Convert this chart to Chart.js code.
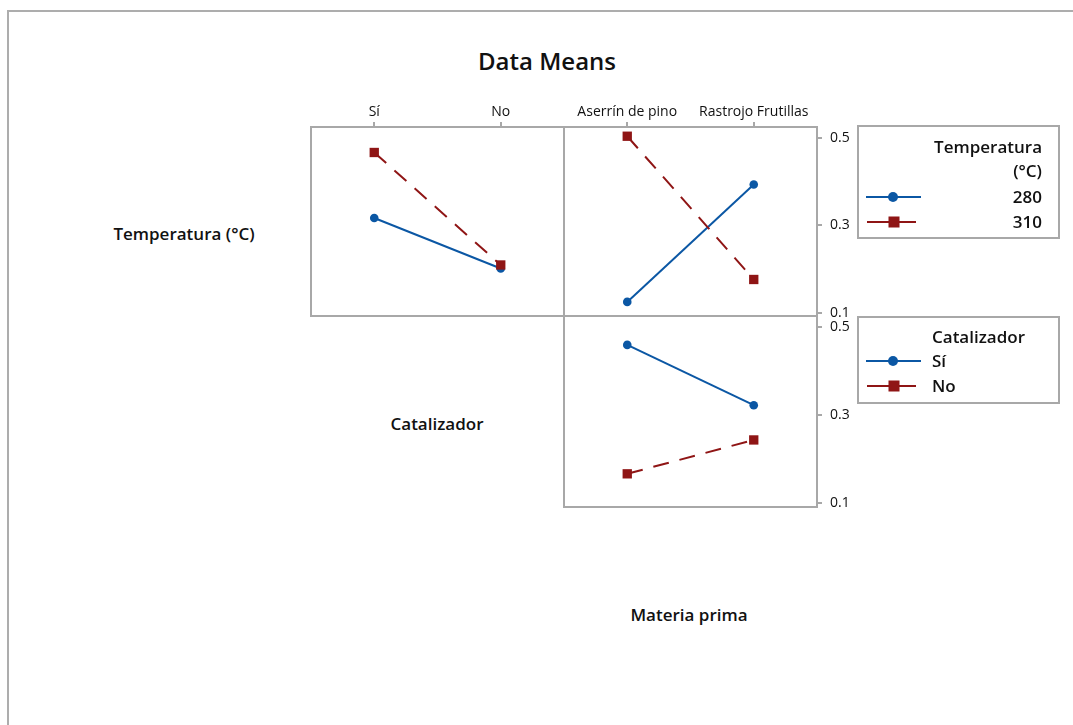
<!DOCTYPE html>
<html><head><meta charset="utf-8">
<script src="https://cdn.jsdelivr.net/npm/chart.js@4"></script>
<style>
html,body{margin:0;padding:0;background:#fff;}
body{width:1073px;height:725px;position:relative;overflow:hidden;font-family:"Open Sans",sans-serif;color:#111;}
.frame{position:absolute;left:7px;top:10px;width:1080px;height:730px;border-top:2px solid #adadad;border-left:2px solid #adadad;}
canvas{position:absolute;}
.lbl{position:absolute;transform:translate(-50%,-50%);white-space:nowrap;font-weight:600;font-size:17px;}
.title{position:absolute;left:547px;top:60px;transform:translate(-50%,-50%);font-weight:600;font-size:24px;white-space:nowrap;}
.box{position:absolute;border:2px solid #a8a8a8;box-sizing:border-box;}
.lt{position:absolute;transform:translateY(-50%);white-space:nowrap;font-weight:600;font-size:17px;}
.r{right:31px;}
.l{left:932px;}
svg{position:absolute;left:0;top:0;}
</style></head>
<body>
<div class="frame"></div>
<div class="title">Data Means</div>
<div class="lbl" style="left:184px;top:233px;">Temperatura (°C)</div>
<div class="lbl" style="left:437px;top:423px;">Catalizador</div>
<div class="lbl" style="left:689px;top:614px;">Materia prima</div>

<canvas id="pTL"></canvas>
<canvas id="pTR"></canvas>
<canvas id="pBR"></canvas>

<div class="box" style="left:857px;top:125px;width:203px;height:114px;"></div>
<div class="lt r" style="top:146px;">Temperatura</div>
<div class="lt r" style="top:170px;">(°C)</div>
<div class="lt r" style="top:196px;">280</div>
<div class="lt r" style="top:221px;">310</div>

<div class="box" style="left:857px;top:316px;width:203px;height:88px;"></div>
<div class="lt l" style="top:336px;">Catalizador</div>
<div class="lt l" style="top:360px;">Sí</div>
<div class="lt l" style="top:385px;">No</div>

<svg width="1073" height="725">
  <line x1="866" y1="197" x2="921" y2="197" stroke="#0B57A4" stroke-width="2"/>
  <circle cx="893" cy="197" r="5" fill="#0B57A4"/>
  <line x1="867" y1="222" x2="916" y2="222" stroke="#8F1515" stroke-width="2"/>
  <rect x="888.5" y="216.5" width="11" height="11" fill="#8F1515"/>
  <line x1="866" y1="361" x2="921" y2="361" stroke="#0B57A4" stroke-width="2"/>
  <circle cx="893" cy="361" r="5" fill="#0B57A4"/>
  <line x1="867" y1="386" x2="916" y2="386" stroke="#8F1515" stroke-width="2"/>
  <rect x="888.5" y="380.5" width="11" height="11" fill="#8F1515"/>
</svg>

<script>
// ---- data ----
const catalizador = ['Sí', 'No'];
const materiaPrima = ['Aserrín de pino', 'Rastrojo Frutillas'];
const temperaturas = ['280', '310'];
const temp280PorCatalizador = [0.317, 0.202];
const temp310PorCatalizador = [0.466, 0.210];
const temp280PorMateria = [0.126, 0.393];
const temp310PorMateria = [0.503, 0.177];
const catSiPorMateria = [0.460, 0.323];
const catNoPorMateria = [0.167, 0.244];
const yTickValues = [0.1, 0.3, 0.5];

// ---- styles ----
const BLUE = '#0B57A4', RED = '#8F1515', GRAY = '#a8a8a8', TXT = '#111';
const FONT = 'Open Sans';
const P = 24, TOP_AXIS = 30, RIGHT_AXIS = 44;

const frame = {
  id: 'panelFrame',
  beforeDatasetsDraw(chart) {
    const {ctx, chartArea: a} = chart;
    ctx.save();
    ctx.strokeStyle = GRAY; ctx.lineWidth = 2;
    ctx.strokeRect(a.left, a.top, a.right - a.left, a.bottom - a.top);
    ctx.restore();
  }
};

function series(values, color, dashed, label) {
  return {
    label, data: values,
    borderColor: color, backgroundColor: color,
    borderWidth: 2, borderDash: dashed ? [16, 11] : [],
    pointStyle: dashed ? 'rect' : 'circle',
    pointRadius: dashed ? 6.6 : 4.3,
    pointBorderWidth: 0,
    pointBackgroundColor: color,
    order: dashed ? 0 : 1,
    tension: 0, fill: false, clip: false
  };
}

function panel(id, box, cfg) {
  const top = cfg.showX ? TOP_AXIS : 0;
  const right = cfg.showY ? RIGHT_AXIS : 0;
  const c = document.getElementById(id);
  c.width = box.w + 2 * P + right;
  c.height = box.h + 2 * P + top;
  c.style.left = (box.x - P) + 'px';
  c.style.top = (box.y - P - top) + 'px';
  new Chart(c, {
    type: 'line',
    data: { labels: cfg.labels, datasets: cfg.datasets },
    options: {
      responsive: false, animation: false, devicePixelRatio: 1,
      layout: { padding: P },
      plugins: { legend: { display: false }, tooltip: { enabled: false } },
      scales: {
        x: {
          type: 'category', position: 'top', offset: true, display: cfg.showX,
          grid: { drawOnChartArea: false, drawTicks: true, tickLength: 5, color: GRAY, lineWidth: 2 },
          border: { display: false },
          ticks: { font: { family: FONT, size: 14 }, color: TXT, padding: 2, maxRotation: 0, autoSkip: false },
          afterFit: s => { s.height = top; }
        },
        y: {
          type: 'linear', position: 'right', min: cfg.min, max: cfg.max, display: cfg.showY,
          afterBuildTicks: s => { s.ticks = yTickValues.map(v => ({ value: v })); },
          grid: { drawOnChartArea: false, drawTicks: true, tickLength: 5, color: GRAY, lineWidth: 2 },
          border: { display: false },
          ticks: { font: { family: FONT, size: 14 }, color: TXT, padding: 8, callback: v => Number(v).toFixed(1) },
          afterFit: s => { s.width = right; }
        }
      }
    },
    plugins: [frame]
  });
}

panel('pTL', { x: 311, y: 127, w: 253, h: 189 }, {
  labels: catalizador, showX: true, showY: false, min: 0.0939, max: 0.524,
  datasets: [series(temp280PorCatalizador, BLUE, false, temperaturas[0]),
             series(temp310PorCatalizador, RED, true, temperaturas[1])]
});
panel('pTR', { x: 564, y: 127, w: 253, h: 189 }, {
  labels: materiaPrima, showX: true, showY: true, min: 0.0939, max: 0.524,
  datasets: [series(temp280PorMateria, BLUE, false, temperaturas[0]),
             series(temp310PorMateria, RED, true, temperaturas[1])]
});
panel('pBR', { x: 564, y: 316, w: 253, h: 191 }, {
  labels: materiaPrima, showX: false, showY: true, min: 0.0916, max: 0.5257,
  datasets: [series(catSiPorMateria, BLUE, false, catalizador[0]),
             series(catNoPorMateria, RED, true, catalizador[1])]
});
</script>
</body></html>
